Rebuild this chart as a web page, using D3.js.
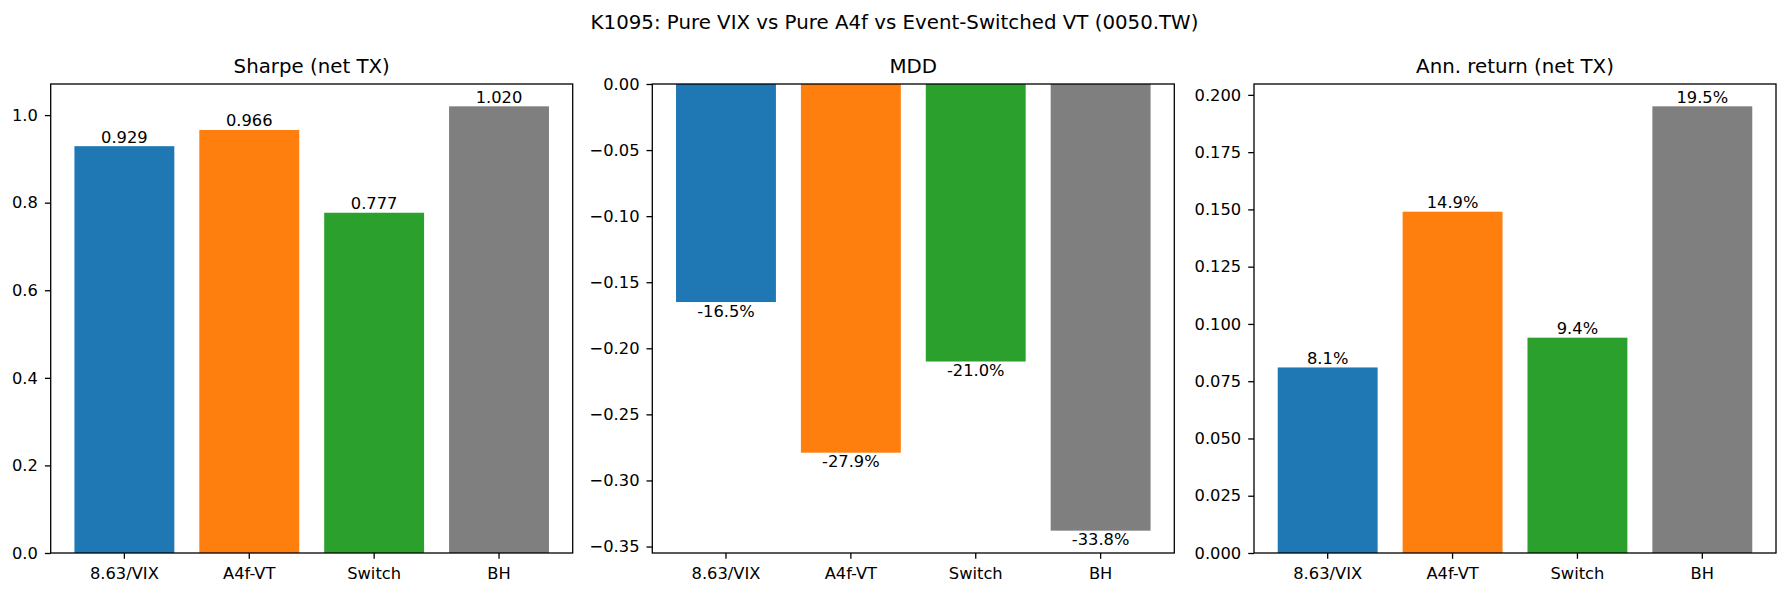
<!DOCTYPE html>
<html>
<head>
<meta charset="utf-8">
<script src="https://cdn.jsdelivr.net/npm/d3@7"></script>
<style>
  body { margin: 0; background: #fff; }
  svg { display: block; font-family: "DejaVu Sans", sans-serif; }
  .axis text { font-size: 16.3px; fill: #000; font-family: "DejaVu Sans", sans-serif; }
  .axis path, .axis line { stroke: #000; stroke-width: 1.3px; }
</style>
</head>
<body>
<svg id="chart" width="1787" height="595"></svg>
<script>
const categories = ["8.63/VIX", "A4f-VT", "Switch", "BH"];
const colors = ["#1f77b4", "#ff7f0e", "#2ca02c", "#7f7f7f"];

const sharpeValues = [0.929, 0.966, 0.777, 1.020];
const mddValues = [-0.165, -0.279, -0.210, -0.338];
const annReturnValues = [0.081, 0.149, 0.094, 0.195];

const sharpeTicks = [0.0, 0.2, 0.4, 0.6, 0.8, 1.0];
const mddTicks = [0.00, -0.05, -0.10, -0.15, -0.20, -0.25, -0.30, -0.35];
const annTicks = [0.000, 0.025, 0.050, 0.075, 0.100, 0.125, 0.150, 0.175, 0.200];

const figTitle = "K1095: Pure VIX vs Pure A4f vs Event-Switched VT (0050.TW)";

const panels = [
  { title: "Sharpe (net TX)", values: sharpeValues, ticks: sharpeTicks,
    tickFmt: d3.format(".1f"), labelFmt: d3.format(".3f"), left: 50.7 },
  { title: "MDD", values: mddValues, ticks: mddTicks,
    tickFmt: d3.format(".2f"), labelFmt: d => (d * 100).toFixed(1) + "%", left: 652.3 },
  { title: "Ann. return (net TX)", values: annReturnValues, ticks: annTicks,
    tickFmt: d3.format(".3f"), labelFmt: d => (d * 100).toFixed(1) + "%", left: 1254 }
];

const svg = d3.select("#chart");
const plotTop = 84, height = 469, width = 522;

svg.append("text")
  .attr("x", 894.5)
  .attr("y", 28.5)
  .attr("text-anchor", "middle")
  .style("font-size", "19.8px")
  .text(figTitle);

panels.forEach(p => {
  const g = svg.append("g").attr("transform", "translate(" + p.left + "," + plotTop + ")");

  const x = d3.scaleBand()
    .domain(categories)
    .range([0, width])
    .paddingInner(0.2)
    .paddingOuter(0.19);

  // matplotlib-style 5% margin on the data extent, anchored at zero
  const lo = Math.min(0, d3.min(p.values)), hi = Math.max(0, d3.max(p.values));
  const y = d3.scaleLinear()
    .domain([lo < 0 ? lo * 1.05 : 0, hi > 0 ? hi * 1.05 : 0])
    .range([height, 0]);

  g.selectAll(".bar")
    .data(p.values)
    .enter()
    .append("rect")
    .attr("class", "bar")
    .attr("x", (d, i) => x(categories[i]))
    .attr("width", x.bandwidth())
    .attr("y", d => Math.min(y(d), y(0)))
    .attr("height", d => Math.abs(y(d) - y(0)))
    .attr("fill", (d, i) => colors[i]);

  g.selectAll(".lbl")
    .data(p.values)
    .enter()
    .append("text")
    .attr("class", "lbl")
    .attr("x", (d, i) => x(categories[i]) + x.bandwidth() / 2)
    .attr("y", d => d >= 0 ? y(d) - 3.5 : y(d) + 14.5)
    .attr("text-anchor", "middle")
    .style("font-size", "16.3px")
    .text(d => p.labelFmt(d));

  g.append("g")
    .attr("class", "axis")
    .attr("transform", "translate(0," + height + ")")
    .call(d3.axisBottom(x).tickSize(5.8).tickPadding(9).tickSizeOuter(0))
    .call(a => a.select(".domain").remove());

  g.append("g")
    .attr("class", "axis")
    .call(d3.axisLeft(y).tickValues(p.ticks).tickFormat(p.tickFmt).tickSize(5.8).tickPadding(7).tickSizeOuter(0))
    .call(a => a.select(".domain").remove());

  g.append("rect")
    .attr("width", width)
    .attr("height", height)
    .attr("fill", "none")
    .attr("stroke", "#000")
    .attr("stroke-width", 1.3);

  g.append("text")
    .attr("x", width / 2)
    .attr("y", -11)
    .attr("text-anchor", "middle")
    .style("font-size", "19.8px")
    .text(p.title);
});
</script>
</body>
</html>
